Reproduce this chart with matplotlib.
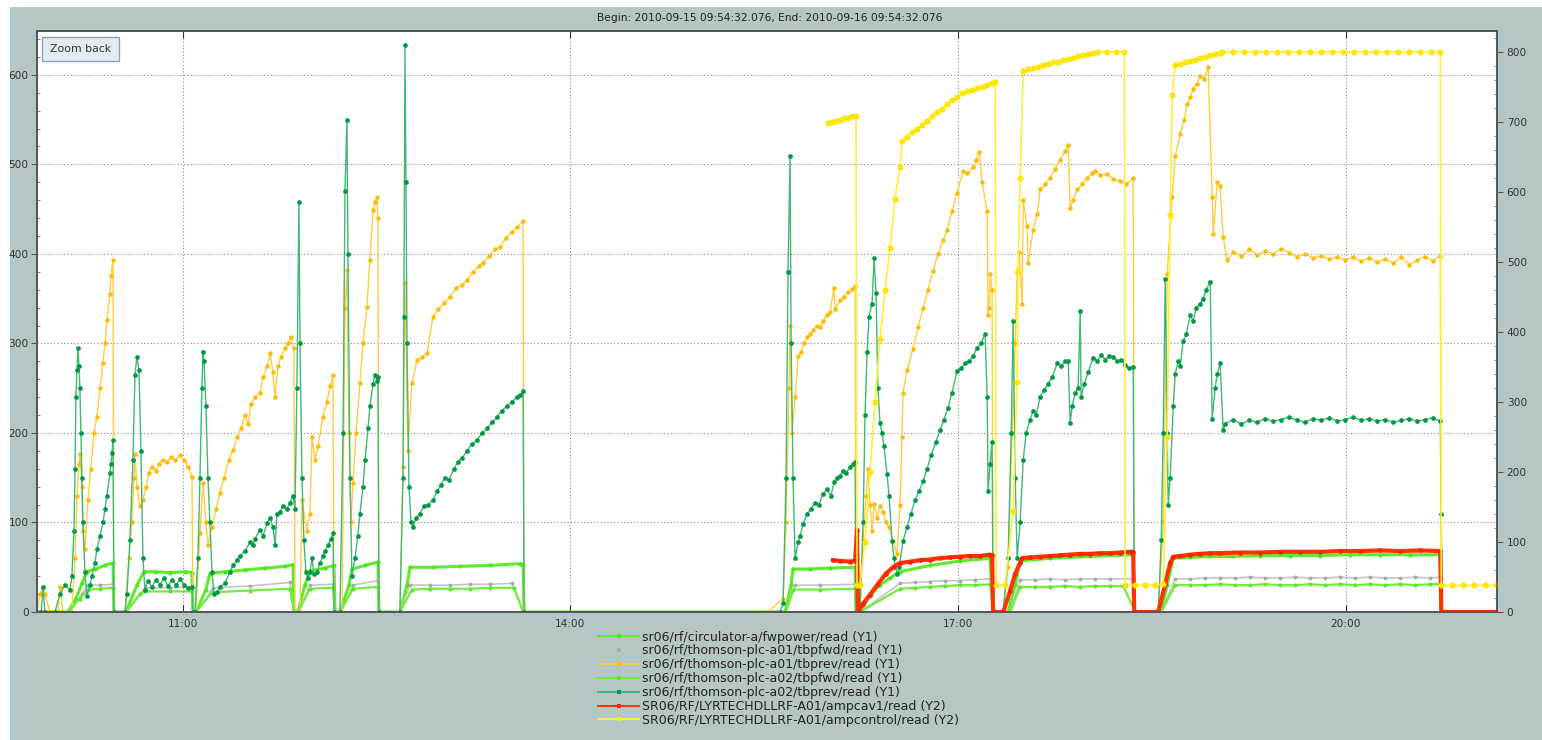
import numpy as np
import matplotlib.pyplot as plt
from matplotlib.ticker import MultipleLocator, FixedLocator, FuncFormatter
from matplotlib.patches import Rectangle
from matplotlib.lines import Line2D

# time = decimal hours on 2010-09-15, values

# sr06/rf/circulator-a/fwpower/read (Y1)
fwpower_t = [9.873, 10.112, 10.174, 10.221, 10.259, 10.321, 10.399, 10.461, 10.468,
             10.561, 10.646, 10.700, 10.785, 10.901, 11.018, 11.072, 11.079,
             11.103, 11.180, 11.211, 11.327, 11.482, 11.637, 11.792, 11.854, 11.861,
             11.892, 11.946, 11.985, 12.101, 12.171, 12.179,
             12.217, 12.287, 12.310, 12.411, 12.511, 12.519,
             12.681, 12.736, 12.759, 12.937, 13.146, 13.378, 13.611, 13.634, 13.642,
             15.661, 15.708, 15.723, 15.855, 16.009, 16.203, 16.210,
             16.241, 16.319, 16.396, 16.473, 16.551, 16.783, 17.016, 17.248, 17.271,
             17.387, 17.442, 17.480, 17.712, 18.022, 18.355, 18.363,
             18.572, 18.618, 18.665, 18.796, 18.951, 19.121, 19.338, 19.570, 19.802,
             20.035, 20.267, 20.499, 20.731, 20.739, 21.170]
fwpower_v = [0, 0, 15, 32, 45, 48, 52, 55, 0,
             0, 30, 45, 45, 44, 45, 44, 0,
             0, 25, 43, 45, 47, 49, 51, 53, 0,
             0, 30, 46, 49, 52, 0,
             0, 30, 48, 52, 56, 0,
             0, 30, 50, 50, 51, 52, 54, 53, 0,
             0, 30, 48, 48, 49, 50, 0,
             0, 18, 30, 38, 45, 52, 57, 60, 0,
             0, 30, 57, 60, 62, 64, 0,
             0, 30, 60, 61, 62, 62, 63, 63, 63,
             64, 64, 64, 64, 0, 0]

# sr06/rf/thomson-plc-a01/tbpfwd/read (Y1)
a01_fwd_t = [9.873, 10.128, 10.221, 10.267, 10.360, 10.461, 10.468,
             10.569, 10.708, 10.901, 11.072, 11.079,
             11.110, 11.235, 11.521, 11.830, 11.861,
             11.900, 11.985, 12.163, 12.179,
             12.225, 12.318, 12.511, 12.519,
             12.681, 12.759, 12.914, 13.069, 13.224, 13.378, 13.549, 13.642,
             15.669, 15.739, 15.932, 16.203, 16.210,
             16.241, 16.551, 16.667, 16.783, 16.899, 17.016, 17.132, 17.248, 17.271,
             17.403, 17.480, 17.597, 17.712, 17.829, 17.945, 18.061, 18.177, 18.355, 18.363,
             18.572, 18.680, 18.796, 18.912, 19.028, 19.144, 19.261, 19.377, 19.493, 19.609,
             19.725, 19.841, 19.957, 20.073, 20.189, 20.306, 20.422, 20.538, 20.654, 20.731,
             20.739, 21.170]
a01_fwd_v = [0, 0, 20, 30, 30, 31, 0,
             0, 27, 27, 28, 0,
             0, 27, 29, 33, 0,
             0, 30, 31, 0,
             0, 30, 35, 0,
             0, 30, 30, 30, 31, 31, 32, 0,
             0, 30, 30, 31, 0,
             0, 32, 33, 34, 35, 35, 36, 37, 0,
             0, 36, 36, 37, 36, 37, 37, 37, 37, 0,
             0, 37, 37, 38, 38, 38, 39, 38, 38, 39,
             38, 38, 39, 38, 39, 38, 38, 39, 38, 39,
             0, 0]

# sr06/rf/thomson-plc-a01/tbprev/read (Y1)
a01_rev_t = [9.873, 9.896, 9.919, 9.934, 9.973, 10.035, 10.050, 10.073,
             10.143, 10.167, 10.182, 10.198, 10.205, 10.221, 10.228, 10.244, 10.267,
             10.290, 10.313, 10.337, 10.360, 10.383, 10.399, 10.414, 10.437, 10.445,
             10.461, 10.468,
             10.553, 10.584, 10.607, 10.623, 10.631, 10.646, 10.669, 10.693, 10.716,
             10.739, 10.762, 10.793, 10.816, 10.847, 10.878, 10.909, 10.940, 10.979,
             11.010, 11.041, 11.072, 11.079,
             11.103, 11.134, 11.157, 11.180, 11.196, 11.227, 11.258, 11.289, 11.320,
             11.358, 11.389, 11.421, 11.452, 11.482, 11.506, 11.529, 11.560, 11.598,
             11.622, 11.653, 11.676, 11.699, 11.715, 11.738, 11.761, 11.792, 11.815,
             11.838, 11.861, 11.869,
             11.908, 11.923, 11.962, 11.985, 12.001, 12.024, 12.047, 12.086, 12.117,
             12.140, 12.163, 12.171,
             12.233, 12.256, 12.271, 12.287, 12.302, 12.318, 12.341, 12.372, 12.395,
             12.426, 12.449, 12.473, 12.488, 12.504, 12.511, 12.519,
             12.681, 12.705, 12.720, 12.743, 12.774, 12.813, 12.851, 12.890, 12.937,
             12.976, 13.022, 13.069, 13.115, 13.162, 13.200, 13.247, 13.293, 13.324,
             13.371, 13.417, 13.456, 13.502, 13.549, 13.587, 13.634, 13.642,
             15.530, 15.646, 15.669, 15.692, 15.700, 15.716, 15.739, 15.762, 15.785,
             15.808, 15.832, 15.855, 15.878, 15.909, 15.932, 15.955, 15.986, 16.009,
             16.040, 16.048, 16.087, 16.117, 16.148, 16.179, 16.203, 16.210,
             16.241, 16.265, 16.288, 16.303, 16.319, 16.334, 16.350, 16.373, 16.396,
             16.419, 16.442, 16.466, 16.497, 16.528,
             16.551, 16.566, 16.574, 16.605, 16.651, 16.690, 16.729, 16.767, 16.806,
             16.845, 16.884, 16.915, 16.953, 16.992, 17.039, 17.070, 17.116, 17.140,
             17.163, 17.186, 17.225, 17.232, 17.240, 17.248, 17.263, 17.271,
             17.349, 17.387, 17.418, 17.442, 17.457, 17.473, 17.496, 17.504, 17.534,
             17.542, 17.581, 17.612, 17.635, 17.674, 17.712, 17.751, 17.790, 17.829,
             17.852, 17.867, 17.890, 17.921, 17.960, 17.999, 18.038, 18.061, 18.100,
             18.154, 18.201, 18.255, 18.301, 18.355, 18.363,
             18.549, 18.587, 18.618, 18.657, 18.680, 18.719, 18.750, 18.773, 18.796,
             18.819, 18.850, 18.873, 18.904, 18.935, 18.966, 18.974, 19.005, 19.028,
             19.051, 19.083,
             19.129, 19.191, 19.253, 19.315, 19.377, 19.439, 19.501, 19.563, 19.625,
             19.687, 19.749, 19.811, 19.873, 19.935, 19.996, 20.058, 20.120, 20.182,
             20.244, 20.306, 20.368, 20.430, 20.492, 20.553, 20.615, 20.677, 20.731,
             20.739, 21.170]
a01_rev_v = [0, 20, 28, 20, 0, 0, 28, 0,
             0, 60, 130, 165, 177, 140, 91, 70, 125,
             160, 200, 218, 250, 278, 300, 326, 355, 375,
             393, 0,
             0, 60, 100, 150, 177, 140, 118, 125, 140,
             155, 162, 158, 165, 170, 168, 173, 170, 175,
             170, 162, 151, 0,
             0, 88, 144, 100, 75, 95, 115, 133, 150,
             170, 181, 195, 205, 220, 210, 232, 240, 245,
             262, 275, 289, 268, 240, 275, 285, 295, 300,
             307, 295, 0,
             0, 125, 91, 110, 196, 170, 185, 218, 235,
             252, 265, 0,
             0, 340, 382, 200, 100, 144, 200, 256, 300,
             341, 393, 449, 458, 464, 440, 0,
             0, 162, 367, 180, 256, 281, 285, 289, 330,
             338, 345, 352, 362, 365, 371, 380, 387, 390,
             398, 405, 408, 418, 425, 430, 437, 0,
             0, 15, 100, 250, 320, 200, 240, 286, 290,
             300, 307, 310, 315, 320, 318, 325, 332, 335,
             362, 338, 348, 352, 358, 361, 364, 0,
             0, 80, 130, 160, 120, 90, 121, 105, 118,
             112, 100, 95, 79, 65,
             120, 196, 245, 270, 294, 318, 340, 360, 381,
             400, 415, 427, 448, 468, 493, 490, 497, 505,
             514, 480, 448, 332, 340, 378, 360, 0,
             0, 50, 200, 300, 380, 402, 344, 460, 431,
             390, 427, 445, 472, 478, 485, 495, 505, 515,
             522, 451, 460, 472, 478, 485, 490, 493, 488,
             489, 484, 481, 478, 485, 0,
             0, 100, 378, 464, 509, 534, 550, 568, 575,
             584, 590, 599, 595, 609, 464, 422, 480, 476,
             419, 393,
             402, 398, 405, 399, 403, 400, 406, 401, 397,
             400, 395, 398, 394, 397, 393, 396, 392, 395,
             391, 394, 390, 396, 388, 393, 397, 392, 398,
             0, 0]

# sr06/rf/thomson-plc-a02/tbpfwd/read (Y1)
a02_fwd_t = [9.873, 10.112, 10.205, 10.267, 10.360, 10.461, 10.468,
             10.561, 10.669, 10.708, 10.901, 11.072, 11.079,
             11.103, 11.227, 11.521, 11.830, 11.861,
             11.892, 11.985, 12.163, 12.179,
             12.217, 12.318, 12.511, 12.519,
             12.681, 12.774, 12.914, 13.069, 13.224, 13.378, 13.564, 13.634,
             15.669, 15.723, 15.932, 16.203, 16.210,
             16.241, 16.551, 16.667, 16.783, 16.899, 17.016, 17.132, 17.248, 17.271,
             17.403, 17.480, 17.597, 17.712, 17.829, 17.945, 18.061, 18.177, 18.278, 18.371,
             18.572, 18.680, 18.796, 18.912, 19.028, 19.144, 19.261, 19.377, 19.493, 19.609,
             19.725, 19.841, 19.957, 20.073, 20.189, 20.306, 20.422, 20.538, 20.654, 20.731,
             20.739, 21.170]
a02_fwd_v = [0, 0, 15, 25, 26, 27, 0,
             0, 20, 23, 23, 23, 0,
             0, 22, 24, 26, 0,
             0, 26, 27, 0,
             0, 26, 28, 0,
             0, 25, 26, 26, 26, 27, 27, 0,
             0, 25, 25, 26, 0,
             0, 26, 27, 28, 29, 30, 30, 31, 0,
             0, 28, 28, 28, 29, 28, 29, 29, 29, 0,
             0, 30, 30, 30, 31, 30, 30, 31, 30, 30,
             31, 30, 31, 30, 31, 30, 31, 30, 31, 31,
             0, 0]

# sr06/rf/thomson-plc-a02/tbprev/read (Y1)
a02_rev_t = [9.873, 9.905, 9.919, 9.934, 10.012, 10.050, 10.089, 10.128, 10.143,
             10.159, 10.167, 10.174, 10.182, 10.190, 10.198, 10.205, 10.213, 10.221,
             10.228, 10.244, 10.259, 10.283, 10.298, 10.321, 10.337, 10.360, 10.383,
             10.399, 10.414, 10.437, 10.445, 10.453, 10.461, 10.468,
             10.553, 10.569, 10.592, 10.615, 10.631, 10.646, 10.662, 10.677, 10.693,
             10.708, 10.731, 10.762, 10.793, 10.824, 10.855, 10.886, 10.917, 10.948,
             10.979, 11.010, 11.041, 11.072, 11.079,
             11.095, 11.118, 11.134, 11.149, 11.157, 11.165, 11.180, 11.196, 11.211,
             11.227, 11.242, 11.266, 11.289, 11.327, 11.366, 11.389, 11.421, 11.444,
             11.482, 11.521, 11.545, 11.560, 11.598, 11.622, 11.653, 11.676, 11.699,
             11.715, 11.730, 11.753, 11.776, 11.807, 11.830, 11.854, 11.869, 11.884,
             11.900, 11.908, 11.923, 11.938, 11.954, 11.970, 11.985, 12.001, 12.016,
             12.040, 12.063, 12.086, 12.101, 12.125, 12.148, 12.163, 12.171,
             12.217, 12.241, 12.256, 12.271, 12.279, 12.295, 12.310, 12.333, 12.356,
             12.372, 12.395, 12.411, 12.434, 12.449, 12.473, 12.488, 12.504, 12.511,
             12.519,
             12.681, 12.705, 12.712, 12.720, 12.728, 12.736, 12.751, 12.767, 12.782,
             12.805, 12.836, 12.867, 12.898, 12.937, 12.968, 12.999, 13.030, 13.061,
             13.100, 13.131, 13.162, 13.200, 13.239, 13.278, 13.316, 13.355, 13.394,
             13.433, 13.471, 13.510, 13.549, 13.587, 13.611, 13.634, 13.642,
             15.623, 15.646, 15.669, 15.684, 15.700, 15.708, 15.723, 15.739, 15.762,
             15.777, 15.801, 15.832, 15.862, 15.893, 15.924, 15.955, 15.986, 16.017,
             16.040, 16.063, 16.087, 16.110, 16.133, 16.164, 16.187, 16.203, 16.210,
             16.241, 16.265, 16.280, 16.296, 16.311, 16.334, 16.350, 16.365, 16.380,
             16.396, 16.411, 16.427, 16.450, 16.466, 16.489, 16.504, 16.528, 16.543,
             16.574, 16.605, 16.636, 16.667, 16.698, 16.729, 16.760, 16.791, 16.829,
             16.860, 16.891, 16.922, 16.953, 16.992, 17.023, 17.054, 17.085, 17.116,
             17.147, 17.178, 17.209, 17.225, 17.232, 17.248, 17.263, 17.271,
             17.349, 17.387, 17.411, 17.426, 17.442, 17.457, 17.480, 17.504, 17.527,
             17.558, 17.581, 17.604, 17.635, 17.666, 17.697, 17.728, 17.767, 17.798,
             17.829, 17.852, 17.867, 17.883, 17.906, 17.929, 17.945, 17.952, 17.976,
             18.007, 18.046, 18.077, 18.108, 18.139, 18.170, 18.201, 18.232, 18.263,
             18.294, 18.324, 18.355, 18.363,
             18.549, 18.572, 18.587, 18.603, 18.618, 18.626, 18.641, 18.665, 18.680,
             18.703, 18.719, 18.742, 18.765, 18.796, 18.819, 18.842, 18.873, 18.896,
             18.920, 18.951, 18.966, 18.989, 19.005, 19.028, 19.051, 19.067,
             19.129, 19.191, 19.253, 19.315, 19.377, 19.439, 19.501, 19.563, 19.625,
             19.687, 19.749, 19.811, 19.873, 19.935, 19.996, 20.058, 20.120, 20.182,
             20.244, 20.306, 20.368, 20.430, 20.492, 20.553, 20.615, 20.677, 20.731,
             20.739, 20.747, 21.170]
a02_rev_v = [0, 0, 28, 0, 0, 20, 30, 25, 40,
             90, 160, 240, 270, 295, 275, 250, 200, 150,
             100, 45, 18, 30, 40, 55, 70, 85, 100,
             115, 130, 155, 165, 178, 192, 0,
             0, 20, 80, 170, 265, 285, 270, 180, 60,
             25, 35, 28, 36, 30, 38, 29, 36, 30,
             37, 30, 27, 28, 0,
             0, 60, 150, 250, 290, 280, 230, 150, 100,
             45, 20, 22, 28, 32, 45, 52, 58, 63,
             68, 78, 75, 82, 92, 85, 99, 105, 95,
             75, 110, 112, 118, 115, 122, 130, 115, 250,
             458, 300, 150, 80, 45, 38, 45, 60, 42,
             45, 55, 62, 68, 75, 82, 88, 0,
             0, 200, 470, 550, 400, 150, 40, 60, 85,
             110, 140, 170, 205, 230, 255, 265, 258, 262,
             0,
             0, 150, 330, 633, 480, 300, 140, 100, 95,
             105, 110, 118, 120, 125, 135, 142, 150, 148,
             160, 168, 172, 180, 188, 192, 200, 205, 212,
             218, 225, 230, 235, 240, 242, 247, 0,
             0, 10, 150, 380, 509, 300, 150, 60, 78,
             85, 98, 110, 115, 122, 120, 132, 137, 130,
             145, 150, 152, 158, 155, 162, 165, 168, 0,
             0, 100, 220, 290, 330, 344, 395, 356, 250,
             211, 200, 185, 154, 130, 79, 60, 42, 50,
             79, 95, 110, 125, 135, 146, 160, 175, 190,
             203, 215, 228, 245, 269, 272, 278, 280, 286,
             295, 300, 311, 240, 135, 165, 190, 0,
             0, 60, 200, 325, 150, 60, 100, 170, 200,
             215, 225, 220, 240, 248, 255, 262, 278, 275,
             280, 280, 211, 230, 245, 250, 336, 240, 255,
             268, 284, 280, 287, 282, 286, 285, 280, 282,
             276, 272, 274, 0,
             0, 80, 200, 372, 200, 120, 150, 230, 266,
             280, 275, 303, 310, 332, 325, 340, 344, 350,
             360, 369, 216, 250, 266, 278, 203, 210,
             215, 210, 214, 212, 216, 213, 215, 218, 214,
             212, 216, 214, 217, 213, 215, 218, 214, 216,
             213, 215, 212, 214, 216, 213, 215, 217, 213,
             110, 0, 0]

# SR06/RF/LYRTECHDLLRF-A01/ampcav1/read (Y2)
ampcav1_t = [16.032, 16.087, 16.164, 16.203, 16.218, 16.226,
             16.265, 16.319, 16.380, 16.442, 16.504, 16.551, 16.628, 16.706, 16.783,
             16.860, 16.938, 17.016, 17.093, 17.170, 17.248, 17.263, 17.271,
             17.349, 17.403, 17.442, 17.480, 17.496, 17.558, 17.635, 17.712, 17.790,
             17.867, 17.945, 18.022, 18.100, 18.177, 18.255, 18.332, 18.355, 18.363,
             18.549, 18.603, 18.641, 18.665, 18.719, 18.796, 18.873, 18.951, 19.028,
             19.183, 19.338, 19.493, 19.647, 19.802, 19.957, 20.112, 20.267, 20.422,
             20.576, 20.731, 20.739, 20.886, 21.041, 21.170]
ampcav1_v = [74, 73, 72, 73, 117, 0,
             12, 25, 40, 55, 65, 70, 72, 74, 75,
             77, 78, 79, 80, 80, 82, 81, 0,
             0, 30, 55, 70, 77, 78, 79, 80, 81,
             82, 83, 83, 84, 84, 85, 86, 86, 0,
             0, 40, 70, 79, 80, 82, 83, 84, 84,
             85, 85, 86, 86, 86, 87, 87, 88, 87,
             88, 87, 0, 0, 0, 0]

# SR06/RF/LYRTECHDLLRF-A01/ampcontrol/read (Y2)
ampcontrol_t = [15.994, 16.025, 16.056, 16.087, 16.117, 16.148, 16.179, 16.210, 16.218,
                16.241, 16.280, 16.319, 16.357, 16.396, 16.435, 16.473, 16.512, 16.551,
                16.566, 16.605, 16.643, 16.682, 16.721, 16.760, 16.798, 16.837, 16.876,
                16.915, 16.953, 16.992, 17.031, 17.070, 17.108, 17.147, 17.186, 17.225,
                17.263, 17.287, 17.295, 17.364,
                17.426, 17.457, 17.465, 17.480, 17.504, 17.542, 17.581, 17.620, 17.658,
                17.697, 17.736, 17.774, 17.813, 17.852, 17.890, 17.929, 17.968, 18.007,
                18.046, 18.084, 18.154, 18.224, 18.286, 18.293,
                18.371, 18.448, 18.525, 18.587, 18.618, 18.641, 18.657,
                18.680, 18.719, 18.757, 18.796, 18.835, 18.873, 18.912, 18.951, 18.989,
                19.028, 19.044, 19.129, 19.214, 19.299, 19.384, 19.469, 19.555, 19.640,
                19.725, 19.811, 19.896, 19.981, 20.066, 20.151, 20.236, 20.321, 20.406,
                20.492, 20.576, 20.662, 20.731, 20.739, 20.824, 20.909, 20.994, 21.079,
                21.164]
ampcontrol_v = [698, 700, 701, 703, 705, 706, 708, 709, 38,
                38, 100, 200, 300, 390, 460, 520, 590, 636,
                673, 679, 685, 690, 696, 702, 708, 714, 719,
                725, 731, 736, 742, 744, 746, 748, 750, 753,
                755, 757, 38, 38,
                144, 329, 487, 620, 773, 775, 777, 779, 781,
                783, 785, 786, 788, 790, 792, 794, 795, 797,
                799, 800, 800, 800, 800, 38,
                38, 38, 38, 40, 250, 567, 739,
                781, 783, 785, 787, 789, 791, 793, 795, 797,
                799, 800, 800, 800, 800, 800, 800, 800, 800,
                800, 800, 800, 800, 800, 800, 800, 800, 800,
                800, 800, 800, 800, 38, 38, 38, 38, 38,
                38]

labels = [
    'sr06/rf/circulator-a/fwpower/read (Y1)',
    'sr06/rf/thomson-plc-a01/tbpfwd/read (Y1)',
    'sr06/rf/thomson-plc-a01/tbprev/read (Y1)',
    'sr06/rf/thomson-plc-a02/tbpfwd/read (Y1)',
    'sr06/rf/thomson-plc-a02/tbprev/read (Y1)',
    'SR06/RF/LYRTECHDLLRF-A01/ampcav1/read (Y2)',
    'SR06/RF/LYRTECHDLLRF-A01/ampcontrol/read (Y2)',
]

# style: (marker colour, line colour, line width, marker size)
styles = [
    ('#4fe61e', '#5cec2c', 2.2, 3.0),
    ('#a9a9a9', '#c4c4c4', 1.2, 2.8),
    ('#ffbb00', '#ffcc40', 1.0, 3.2),
    ('#5ee82a', '#70ee3c', 1.6, 3.0),
    ('#009944', '#40b878', 1.0, 3.4),
    ('#ff2200', '#ff3300', 3.0, 3.4),
    ('#ffe600', '#ffee40', 1.2, 4.4),
]

W, H = 1542, 740
fig = plt.figure(figsize=(W / 100, H / 100), dpi=100, facecolor='white')
fig.add_artist(Rectangle((10 / W, 0), 1, 1 - 7 / H, transform=fig.transFigure,
                         fc='#b4c7c6', ec='none', zorder=-10))

ax = fig.add_axes([37 / W, 1 - 612 / H, 1460 / W, 581 / H])
ax2 = ax.twinx()
ax.set_zorder(1)
ax2.set_zorder(2)
ax.set_facecolor('white')
ax2.patch.set_visible(False)

y1 = [(fwpower_t, fwpower_v), (a01_fwd_t, a01_fwd_v), (a01_rev_t, a01_rev_v),
      (a02_fwd_t, a02_fwd_v), (a02_rev_t, a02_rev_v)]
y2 = [(ampcav1_t, ampcav1_v), (ampcontrol_t, ampcontrol_v)]

handles = []
for i, (t, v) in enumerate(y1 + y2):
    target = ax if i < 5 else ax2
    mc, lc, lw, ms = styles[i]
    target.plot(t, v, color=lc, lw=lw, marker='o', ms=ms, mfc=mc, mec=mc, mew=0)
    # thin legend sample like the viewer's
    handles.append(Line2D([], [], color=lc, lw=1.4, marker='s', ms=3.5,
                          mfc=mc, mec=mc, mew=0, label=labels[i]))

ax.set_xlim(9.873, 21.170)
ax.set_ylim(0, 649)
ax2.set_ylim(0, 830)

ax.xaxis.set_major_locator(FixedLocator([11, 14, 17, 20]))
ax.xaxis.set_major_formatter(FuncFormatter(lambda h, p: '%02d:00' % round(h)))
ax.yaxis.set_major_locator(MultipleLocator(100))
ax.yaxis.set_minor_locator(MultipleLocator(20))
ax2.yaxis.set_major_locator(MultipleLocator(100))
ax2.yaxis.set_minor_locator(MultipleLocator(20))

grid_style = dict(color='#8a8a8a', linestyle=(0, (1, 2)), linewidth=0.8)
ax.grid(True, which='major', **grid_style)
ax.set_axisbelow(True)

for a in (ax, ax2):
    for s in a.spines.values():
        s.set_color('#555555')
        s.set_linewidth(1.2)

ax.tick_params(axis='y', which='major', direction='out', length=4, color='#555555',
               labelsize=7.6, labelcolor='#333333', pad=2)
ax.tick_params(axis='y', which='minor', direction='in', length=2.5, color='#777777')
ax.tick_params(axis='x', which='major', direction='in', length=5, color='#333333',
               top=True, labelsize=7.6, labelcolor='#333333', pad=5)
ax2.tick_params(axis='y', which='major', direction='out', length=4, color='#555555',
                labelsize=7.6, labelcolor='#333333', pad=3)
ax2.tick_params(axis='y', which='minor', direction='in', length=2.5, color='#777777')

fig.text(770 / W, 1 - 18 / H,
         'Begin: 2010-09-15 09:54:32.076, End: 2010-09-16 09:54:32.076',
         ha='center', va='center', fontsize=7.7, color='#222222')

# "Zoom back" button
fig.add_artist(Rectangle((42 / W, 1 - 61 / H), 77 / W, 24 / H, transform=fig.transFigure,
                         fc='#e3eaf2', ec='#8ea2b6', lw=1, zorder=5))
fig.text(80.5 / W, 1 - 49 / H, 'Zoom back', ha='center', va='center',
         fontsize=7.8, color='#333333', zorder=6)

fig.legend(handles=handles, loc='upper left', bbox_to_anchor=(598 / W, 1 - 630.5 / H),
           frameon=False, fontsize=9.0, handlelength=3.3, handletextpad=0.2,
           labelspacing=0.07, borderaxespad=0, borderpad=0, labelcolor='#222222')

fig.savefig('out.png', dpi=100, facecolor=fig.get_facecolor())
